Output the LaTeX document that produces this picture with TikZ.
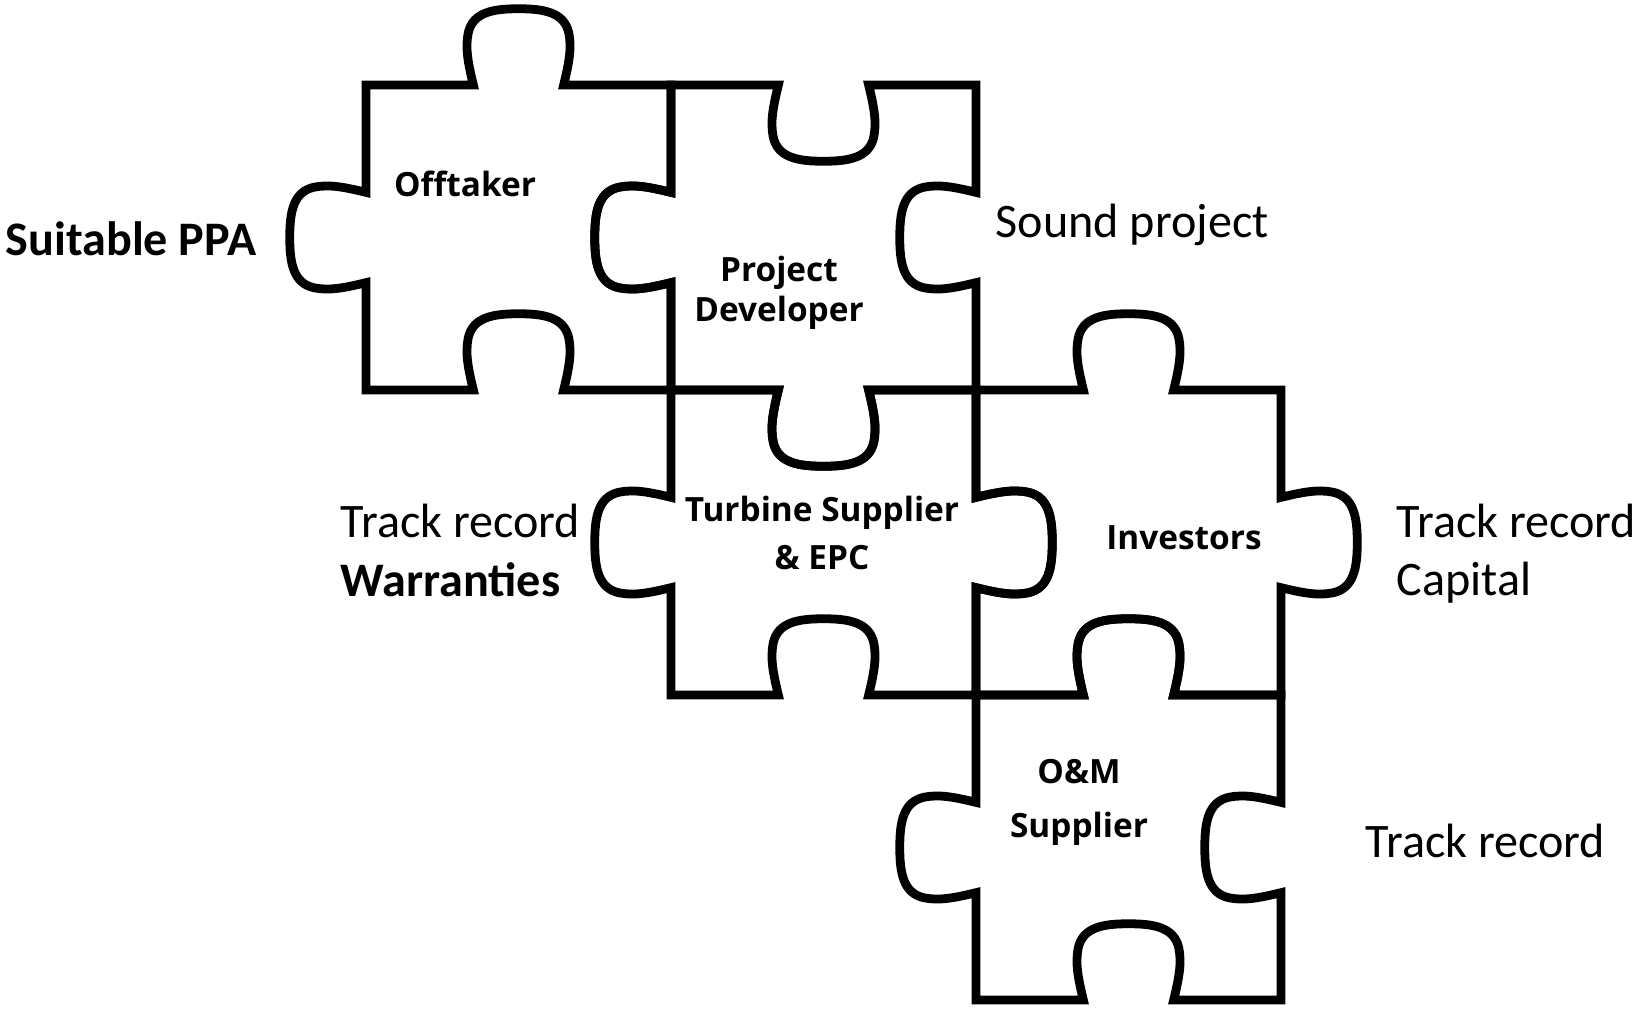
\documentclass[tikz,border=0pt]{standalone}
\usepackage{fontspec}
\setmainfont{Carlito}
\newfontfamily\labelfont{Open Sans}
\usepackage{tikz}
\usetikzlibrary{positioning}

% one side of a piece: knob out (1) or in (-1), side runs from (-0.5,0) to (0.5,0)
\newcommand{\knob}[1]{-- (-0.148,0) .. controls (-0.165,0.07*#1) and (-0.175,0.12*#1) .. (-0.165,0.17*#1) .. controls (-0.15,0.24*#1) and (-0.08,0.25*#1) .. (0,0.25*#1) .. controls (0.08,0.25*#1) and (0.15,0.24*#1) .. (0.165,0.17*#1) .. controls (0.175,0.12*#1) and (0.165,0.07*#1) .. (0.148,0) -- (0.5,0)}

% \puzzlepiece{x}{y}{top}{right}{bottom}{left}
\newcommand{\puzzlepiece}[6]{%
  \draw[piece] (#1,#2+1)
    {[shift={(#1+0.5,#2+1)}] \knob{#3}}
    {[shift={(#1+1,#2+0.5)}, rotate=-90] \knob{#4}}
    {[shift={(#1+0.5,#2)}, rotate=180] \knob{#5}}
    {[shift={(#1,#2+0.5)}, rotate=90] \knob{#6}} -- cycle;}

\begin{document}
\begin{tikzpicture}[
  piece/.style={line width=2.5pt, line join=miter},
  plabel/.style={font=\labelfont\bfseries\fontsize{9.5}{10.2}\selectfont, align=center},
  note/.style={font=\fontsize{13.7}{15}\selectfont, anchor=base west, inner sep=0pt},
  boldnote/.style={note, font=\bfseries\fontsize{13.7}{15}\selectfont}]
  \useasboundingbox (0,0) rectangle (16.34,10.09);

  % Puzzle: 5 pieces
  \begin{scope}[shift={(3.66,6.19)}, x=3.05cm, y=3.05cm]
    \puzzlepiece{0}{0}{1}{-1}{-1}{1}    % offtaker
    \puzzlepiece{1}{0}{-1}{-1}{1}{1}    % developer
    \puzzlepiece{1}{-1}{-1}{1}{-1}{1}   % turbine
    \puzzlepiece{2}{-1}{1}{1}{-1}{-1}   % investors
    \puzzlepiece{2}{-2}{1}{-1}{-1}{1}   % o&m
  \end{scope}

  % Piece labels
  \node[plabel] (offtaker) at (4.65,8.25) {Offtaker};
  \node[plabel] (developer) at (7.79,7.16) {Project\\[1.1pt]Developer};
  \node[plabel] (turbine) at (8.22,4.76) {Turbine Supplier\\[3.2pt]\& EPC};
  \node[plabel] (investors) at (11.84,4.71) {Investors};
  \node[plabel] (om) at (10.79,2.07) {O\&M\\[5.2pt]Supplier};

  % Outside texts
  \node[boldnote] (ppa) at (0.05,7.54) {Suitable PPA};
  \node[note] (sound) at (9.95,7.72) {Sound project};
  \node[note] (trackL) at (3.40,4.72) {Track record};
  \node[boldnote] (warranties) at (3.40,4.13) {Warranties};
  \node[note] (trackR) at (13.96,4.72) {Track record};
  \node[note] (capital) at (13.96,4.14) {Capital};
  \node[note] (trackB) at (13.65,1.52) {Track record};
\end{tikzpicture}
\end{document}
